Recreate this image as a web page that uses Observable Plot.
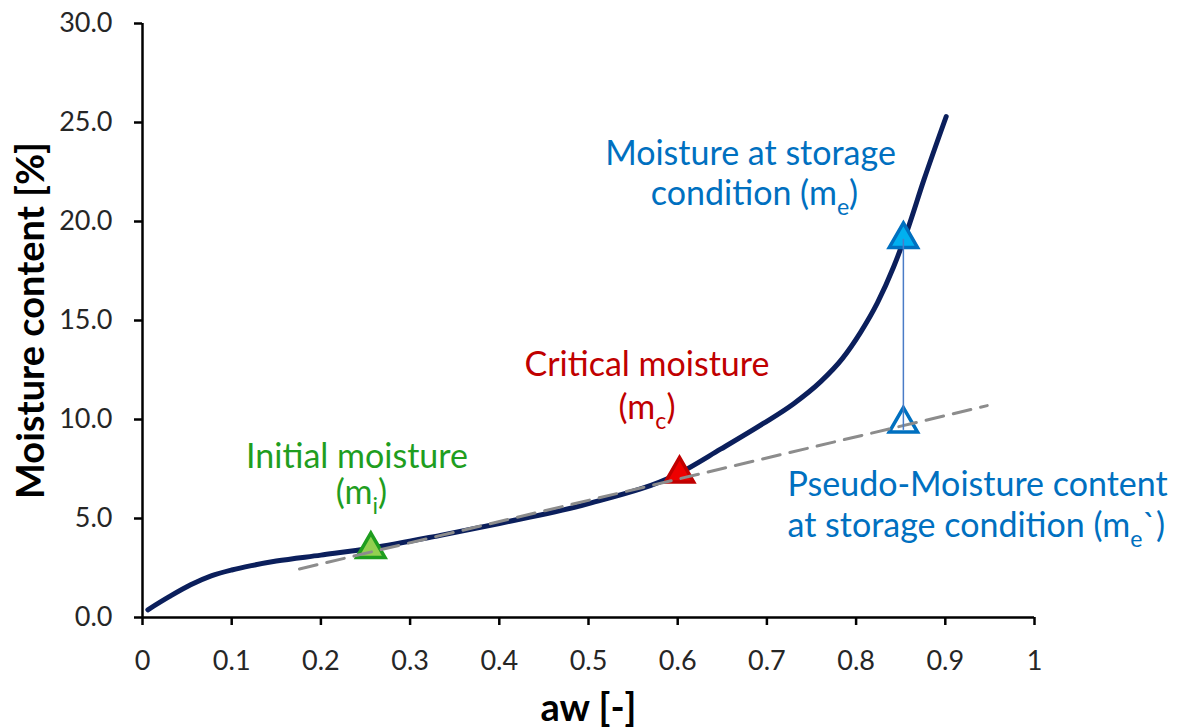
<!DOCTYPE html>
<html><head><meta charset="utf-8">
<script src="https://cdn.jsdelivr.net/npm/d3@7"></script>
<script src="https://cdn.jsdelivr.net/npm/@observablehq/plot@0.6"></script>
<style>body{margin:0;background:#fff;} #chart svg{display:block;}</style>
</head><body><div id="chart"></div>
<script>
// Sorption isotherm
const curveAw = [0.006, 0.03, 0.054, 0.077, 0.1, 0.122, 0.15, 0.2, 0.256, 0.334, 0.4, 0.5, 0.6, 0.648, 0.696, 0.73, 0.76, 0.785, 0.805, 0.824, 0.842, 0.857, 0.876, 0.901];
const curveM  = [0.39, 1.05, 1.65, 2.1, 2.4, 2.62, 2.85, 3.15, 3.5, 4.15, 4.75, 5.75, 7.25, 8.5, 9.8, 10.8, 11.9, 13.1, 14.4, 15.9, 17.7, 19.5, 22.1, 25.3];
// Tangent (pseudo) line
const tangentAw = [0.176, 0.947];
const tangentM  = [2.45, 10.7];
// Key points
const pointName = ["initial", "critical", "storage", "pseudo"];
const pointAw   = [0.256, 0.602, 0.853, 0.853];
const pointM    = [3.44, 7.26, 19.1, 9.78];
// Connector between storage and pseudo points
const connectorAw = [0.853];
const connectorM  = [9.45, 19.1];
// Ticks
const xTicks = [0, 0.1, 0.2, 0.3, 0.4, 0.5, 0.6, 0.7, 0.8, 0.9, 1];
const yTicks = [0, 5, 10, 15, 20, 25, 30];
// Annotation lines
const labelText  = ["Initial moisture", "(m_{i})", "Critical moisture", "(m_{c})", "Moisture at storage", "condition (m_{e})", "Pseudo-Moisture content", "at storage condition (m_{e}`)"];
const labelGroup = ["initial", "initial", "critical", "critical", "storage", "storage", "pseudo", "pseudo"];
const labelAw    = [0.2405, 0.2455, 0.5656, 0.5656, 0.6816, 0.6861, 0.7231, 0.7231];
const labelM     = [7.53, 5.72, 12.22, 10.05, 22.83, 20.81, 6.16, 4.09];
const xTitle = "aw [-]";
const yTitle = "Moisture content [%]";

const curve = curveAw.map((a, i) => ({aw: a, m: curveM[i]}));
const tangent = tangentAw.map((a, i) => ({aw: a, m: tangentM[i]}));
const points = pointAw.map((a, i) => ({name: pointName[i], aw: a, m: pointM[i]}));
const labels = labelText.map((t, i) => ({text: t, group: labelGroup[i], aw: labelAw[i], m: labelM[i]}));

const textColor = {initial: "#1f9e1f", critical: "#c00000", storage: "#0070c0", pseudo: "#0070c0"};
const triFill   = {initial: "#92d050", critical: "#ee0000", storage: "#00b0f0", pseudo: "none"};
const triStroke = {initial: "#1f9e1f", critical: "#c00000", storage: "#0070c0", pseudo: "#0070c0"};

const FONT = "Lato, 'Open Sans', sans-serif";
const marks = [
  Plot.line(curve, {x: "aw", y: "m", curve: "monotone-x", stroke: "#0b1f5c", strokeWidth: 5, strokeLinecap: "round"}),
  ...pointName.map(n => Plot.dot(points.filter(p => p.name === n), {x: "aw", y: "m", symbol: "triangle", r: 10.5, fill: triFill[n], stroke: triStroke[n], strokeWidth: 3.5})),
  Plot.line(tangent, {x: "aw", y: "m", stroke: "#8c8c8c", strokeWidth: 3, strokeDasharray: "18,10"}),
  Plot.ruleX(connectorAw, {x: d => d, y1: connectorM[0], y2: connectorM[1], stroke: "#4a7cc7", strokeWidth: 1.5}),
  Plot.ruleX([0], {stroke: "#000", strokeWidth: 2.5}),
  Plot.ruleY([0], {stroke: "#000", strokeWidth: 2.5}),
  Plot.axisY({ticks: yTicks, tickFormat: d => d.toFixed(1), tickSize: 8, tickPadding: 22, fontSize: 27, stroke: "#000", strokeWidth: 2.5, fill: "#262626", label: null}),
  Plot.axisX({ticks: xTicks, tickFormat: d => String(+d.toFixed(1)), tickSize: 8, tickPadding: 25, fontSize: 27, stroke: "#000", strokeWidth: 2.5, fill: "#262626", label: null}),
  ...Object.keys(textColor).map(g => Plot.text(labels.filter(l => l.group === g), {
    x: "aw", y: "m", text: "text", fill: textColor[g], fontSize: 34, lineAnchor: "bottom",
    textAnchor: g === "pseudo" ? "start" : "middle"
  })),
  Plot.text([yTitle], {text: d => d, frameAnchor: "left", dx: -99, rotate: -90, lineAnchor: "bottom", textAnchor: "middle", fontSize: 38, fontWeight: "bold", fill: "#000"}),
  Plot.text([xTitle], {text: d => d, frameAnchor: "bottom", dy: 103, lineAnchor: "bottom", textAnchor: "middle", fontSize: 38, fontWeight: "bold", fill: "#000"})
];

const plot = Plot.plot({
  width: 1179, height: 727,
  marginLeft: 142, marginRight: 145, marginTop: 23, marginBottom: 110,
  x: {domain: [0, 1]},
  y: {domain: [0, 30]},
  style: {fontFamily: FONT, background: "#fff"},
  marks
});

// Render "_{x}" as subscript tspans
const SHIFT = 10;
d3.select(plot).selectAll("text").each(function() {
  const el = this;
  const s = el.textContent;
  if (!s.includes("_{")) return;
  while (el.firstChild) el.removeChild(el.firstChild);
  const re = /_\{([^}]*)\}/g;
  let last = 0, m, pending = 0;
  const sel = d3.select(el);
  while ((m = re.exec(s))) {
    if (m.index > last) {
      const t = sel.append("tspan").text(s.slice(last, m.index));
      if (pending) { t.attr("dy", -pending); pending = 0; }
    }
    sel.append("tspan").attr("font-size", "0.68em").attr("dy", SHIFT).text(m[1]);
    pending = SHIFT;
    last = re.lastIndex;
  }
  if (last < s.length) {
    const t = sel.append("tspan").text(s.slice(last));
    if (pending) t.attr("dy", -pending);
  }
});

document.getElementById("chart").appendChild(plot);
</script>
</body></html>
